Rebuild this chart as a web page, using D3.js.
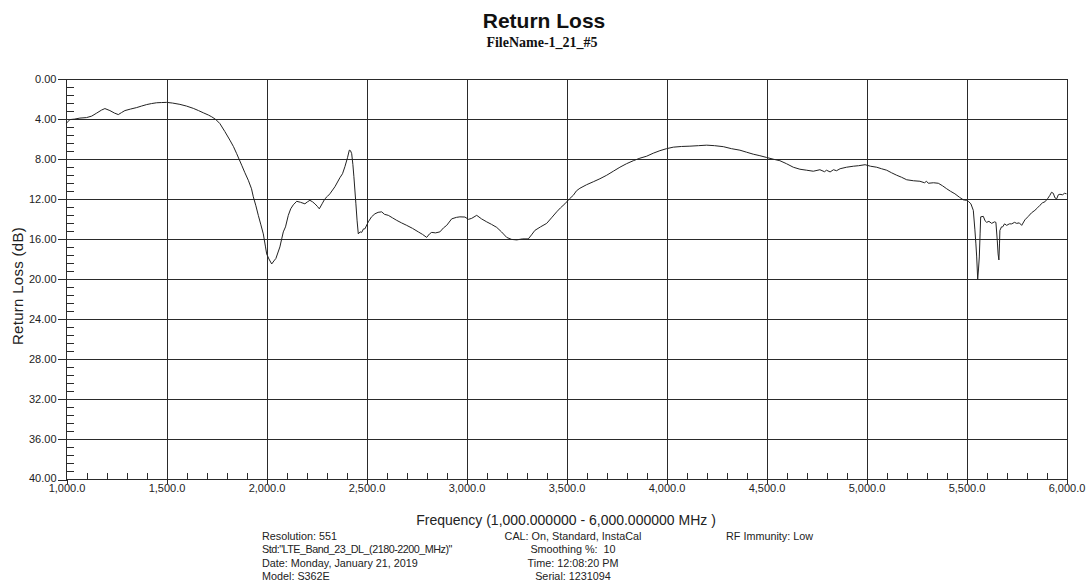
<!DOCTYPE html>
<html>
<head>
<meta charset="utf-8">
<script src="https://cdn.jsdelivr.net/npm/d3@7/dist/d3.min.js"></script>
<style>
  html, body { margin: 0; padding: 0; background: #fff; }
  svg { display: block; }
  .tick text { font-family: "Liberation Sans", Arial, sans-serif; fill: #222; }
  .info { font-family: "Liberation Sans", Arial, sans-serif; font-size: 10.8px; fill: #222; }
</style>
</head>
<body>
<svg id="chart" width="1086" height="587"></svg>
<script>
// Sweep: frequency (MHz) and return loss (dB)
const freq = [
  1000, 1017, 1040, 1067, 1100, 1126, 1151, 1175, 1192, 1217, 1240, 1259, 1275, 1292, 1320, 1351,
  1375, 1401, 1425, 1451, 1475, 1501, 1530, 1567, 1600, 1634, 1660, 1684, 1710, 1726, 1747, 1767,
  1792, 1817, 1835, 1851, 1876, 1892, 1909, 1925, 1934, 1947, 1959, 1972, 1984, 1995, 2001, 2012,
  2026, 2037, 2047, 2067, 2076, 2084, 2095, 2109, 2121, 2134, 2151, 2170, 2192, 2205, 2217, 2230,
  2242, 2254, 2264, 2278, 2292, 2305, 2317, 2342, 2367, 2380, 2392, 2405, 2414, 2420, 2426, 2432,
  2437, 2447, 2453, 2459, 2468, 2476, 2485, 2492, 2509, 2525, 2542, 2558, 2576, 2590, 2609, 2630,
  2651, 2675, 2701, 2730, 2759, 2780, 2801, 2815, 2826, 2845, 2867, 2885, 2901, 2926, 2950, 2967,
  2992, 3010, 3026, 3051, 3075, 3101, 3125, 3151, 3175, 3201, 3225, 3251, 3280, 3309, 3325, 3342,
  3370, 3401, 3425, 3451, 3470, 3492, 3515, 3534, 3550, 3567, 3600, 3634, 3667, 3701, 3734, 3767,
  3800, 3834, 3867, 3901, 3934, 3967, 4000, 4034, 4075, 4117, 4160, 4201, 4240, 4284, 4325, 4367,
  4400, 4434, 4467, 4501, 4534, 4567, 4600, 4634, 4667, 4701, 4734, 4767, 4790, 4800, 4818, 4835,
  4850, 4868, 4900, 4934, 4960, 4993, 5020, 5051, 5075, 5101, 5125, 5151, 5175, 5201, 5235, 5267,
  5290, 5300, 5309, 5335, 5359, 5380, 5401, 5420, 5442, 5465, 5484, 5500, 5509, 5522, 5534, 5542,
  5547, 5551, 5556, 5560, 5564, 5568, 5571, 5584, 5593, 5601, 5612, 5626, 5640, 5647, 5654, 5658,
  5662, 5665, 5667, 5675, 5681, 5690, 5701, 5714, 5726, 5740, 5751, 5764, 5776, 5792, 5809, 5825,
  5842, 5855, 5867, 5880, 5892, 5905, 5917, 5925, 5934, 5942, 5951, 5959, 5967, 5980, 5990, 6000
];
const returnLoss = [
  4.45, 4.10, 4.05, 3.95, 3.90, 3.75, 3.45, 3.15, 3.00, 3.20, 3.45, 3.60, 3.40, 3.20, 3.05, 2.90,
  2.75, 2.60, 2.50, 2.42, 2.40, 2.38, 2.45, 2.58, 2.75, 2.98, 3.20, 3.42, 3.65, 3.82, 4.10, 4.50,
  5.30, 6.15, 6.80, 7.50, 8.65, 9.40, 10.15, 11.00, 11.80, 12.70, 13.65, 14.60, 15.50, 16.80, 17.50, 18.00,
  18.50, 18.20, 17.95, 16.80, 16.00, 15.30, 14.80, 13.65, 13.00, 12.60, 12.25, 12.35, 12.50, 12.30, 12.15, 12.30,
  12.50, 12.75, 13.00, 12.50, 12.00, 11.75, 11.50, 10.80, 9.90, 9.50, 8.80, 7.90, 7.15, 7.20, 7.50, 8.60,
  9.80, 12.50, 14.20, 15.50, 15.30, 15.35, 15.00, 15.00, 14.30, 13.80, 13.50, 13.35, 13.30, 13.55, 13.65, 13.90,
  14.15, 14.40, 14.65, 14.95, 15.30, 15.55, 15.85, 15.50, 15.35, 15.40, 15.30, 14.90, 14.65, 14.00, 13.85, 13.80,
  13.82, 14.05, 13.95, 13.65, 14.00, 14.30, 14.55, 14.85, 15.30, 15.85, 16.05, 16.10, 16.00, 16.00, 15.60, 15.15,
  14.80, 14.45, 13.90, 13.30, 12.90, 12.50, 12.00, 11.65, 11.20, 10.95, 10.60, 10.30, 10.00, 9.65, 9.25, 8.85,
  8.50, 8.20, 7.95, 7.75, 7.45, 7.20, 7.00, 6.85, 6.78, 6.75, 6.70, 6.65, 6.70, 6.80, 7.00, 7.15,
  7.35, 7.55, 7.70, 7.88, 8.05, 8.20, 8.50, 8.85, 9.05, 9.15, 9.25, 9.10, 9.30, 9.15, 9.32, 9.10,
  9.20, 9.00, 8.85, 8.75, 8.70, 8.60, 8.75, 8.85, 9.00, 9.15, 9.40, 9.65, 9.85, 10.10, 10.20, 10.25,
  10.40, 10.25, 10.45, 10.40, 10.45, 10.70, 11.00, 11.25, 11.50, 11.85, 12.10, 12.15, 12.25, 12.50, 13.15, 15.10,
  16.50, 17.80, 20.00, 19.00, 17.80, 15.50, 13.80, 13.75, 14.20, 14.35, 14.25, 14.45, 14.30, 14.35, 16.20, 17.50,
  18.10, 16.50, 15.15, 14.80, 14.80, 14.50, 14.65, 14.50, 14.50, 14.35, 14.45, 14.40, 14.65, 14.10, 13.75, 13.40,
  13.15, 12.90, 12.65, 12.40, 12.30, 12.00, 11.65, 11.35, 11.45, 11.90, 12.00, 11.60, 11.55, 11.60, 11.45, 11.50
];

// Axis ticks
const xMajorTicks = [1000, 1500, 2000, 2500, 3000, 3500, 4000, 4500, 5000, 5500, 6000];
const yMajorTicks = [0, 4, 8, 12, 16, 20, 24, 28, 32, 36, 40];

// Text
const chartTitle = "Return Loss";
const chartSubtitle = "FileName-1_21_#5";
const xTitle = "Frequency (1,000.000000 - 6,000.000000 MHz )";
const yTitle = "Return Loss (dB)";
const infoLeft = ["Resolution: 551", "Std:\"LTE_Band_23_DL_(2180-2200_MHz)\"", "Date: Monday, January 21, 2019", "Model: S362E"];
const infoCenter = ["CAL: On, Standard, InstaCal", "Smoothing %:  10", "Time: 12:08:20 PM", "Serial: 1231094"];
const infoRight = ["RF Immunity: Low"];

const svg = d3.select("#chart");
svg.append("rect").attr("width", 1086).attr("height", 587).attr("fill", "#fff");

const x = d3.scaleLinear().domain([1000, 6000]).range([66.5, 1066.5]);
const y = d3.scaleLinear().domain([0, 40]).range([78.5, 479.5]);
const plotLeft = x.range()[0], plotRight = x.range()[1];
const plotTop = y.range()[0], plotBottom = y.range()[1];

const xMinorTicks = d3.range(1000, 6001, 100).filter(v => !xMajorTicks.includes(v));
const yMinorTicks = d3.range(0, 200, 4).map(k => k / 5).filter(v => v <= 40 && !yMajorTicks.includes(v));

function styleAxis(g, color) {
  g.selectAll("line").attr("stroke", color).attr("shape-rendering", "crispEdges");
  g.selectAll("path.domain").remove();
}

// Grid lines
const gridX = svg.append("g").attr("transform", `translate(0,${plotBottom})`)
  .call(d3.axisBottom(x).tickValues(xMajorTicks.slice(1)).tickSize(-(plotBottom - plotTop)).tickFormat(""));
styleAxis(gridX, "#2a2a2a");
const gridY = svg.append("g").attr("transform", `translate(${plotLeft},0)`)
  .call(d3.axisRight(y).tickValues(yMajorTicks.slice(0, -1)).tickSize(plotRight - plotLeft).tickFormat(""));
styleAxis(gridY, "#2a2a2a");

// Minor ticks
const yMinor = svg.append("g").attr("transform", `translate(${plotLeft},0)`)
  .call(d3.axisRight(y).tickValues(yMinorTicks).tickSize(7).tickFormat(""));
styleAxis(yMinor, "#2a2a2a");
const xMinor = svg.append("g").attr("transform", `translate(0,${plotBottom})`)
  .call(d3.axisTop(x).tickValues(xMinorTicks).tickSize(7).tickFormat(""));
styleAxis(xMinor, "#2a2a2a");

// Main axes with labels
const yAxis = svg.append("g").attr("transform", `translate(${plotLeft},0)`)
  .call(d3.axisLeft(y).tickValues(yMajorTicks).tickSize(9).tickPadding(1).tickFormat(d3.format(".2f")));
styleAxis(yAxis, "#2a2a2a");
yAxis.selectAll("text").attr("font-size", "11px");
yAxis.selectAll(".tick").filter(d => d === 40).select("text").attr("dy", "0.2em");

const xAxis = svg.append("g").attr("transform", `translate(0,${plotBottom})`)
  .call(d3.axisBottom(x).tickValues(xMajorTicks).tickSize(4).tickPadding(1).tickFormat(d3.format(",.1f")));
styleAxis(xAxis, "#2a2a2a");
xAxis.selectAll("text").attr("font-size", "11px");

// Axis lines
svg.append("line").attr("x1", plotLeft).attr("x2", plotLeft).attr("y1", plotTop).attr("y2", plotBottom)
  .attr("stroke", "#2a2a2a").attr("shape-rendering", "crispEdges");
svg.append("line").attr("x1", plotLeft).attr("x2", plotRight).attr("y1", plotBottom).attr("y2", plotBottom)
  .attr("stroke", "#2a2a2a").attr("shape-rendering", "crispEdges");

// Trace
const data = freq.map((f, i) => ({ f, v: returnLoss[i] }));
svg.append("path")
  .datum(data)
  .attr("fill", "none")
  .attr("stroke", "#222")
  .attr("stroke-width", 1)
  .attr("d", d3.line().x(d => x(d.f)).y(d => y(d.v)));

// Titles
svg.append("text").attr("x", 544).attr("y", 28).attr("text-anchor", "middle")
  .attr("font-family", "'Liberation Sans', Arial, sans-serif").attr("font-weight", "bold")
  .attr("font-size", "21px").attr("fill", "#111").text(chartTitle);
svg.append("text").attr("x", 542).attr("y", 46.5).attr("text-anchor", "middle")
  .attr("font-family", "'Liberation Serif', 'Times New Roman', serif").attr("font-weight", "bold")
  .attr("font-size", "14px").attr("fill", "#111").text(chartSubtitle);

svg.append("text").attr("x", 566).attr("y", 525).attr("text-anchor", "middle")
  .attr("font-family", "'Liberation Sans', Arial, sans-serif").attr("font-size", "14px")
  .attr("fill", "#222").text(xTitle);
svg.append("text").attr("transform", "translate(23,286) rotate(-90)").attr("text-anchor", "middle")
  .attr("font-family", "'Liberation Sans', Arial, sans-serif").attr("font-size", "15px")
  .attr("letter-spacing", "0.3px").attr("fill", "#222").text(yTitle);

// Instrument info block
const rowY = [539.5, 553, 566.5, 580];
svg.append("g").selectAll("text").data(infoLeft).join("text").attr("class", "info")
  .attr("x", 262).attr("y", (d, i) => rowY[i])
  .attr("letter-spacing", (d, i) => i === 1 ? "-0.5px" : null).text(d => d);
svg.append("g").selectAll("text").data(infoCenter).join("text").attr("class", "info")
  .attr("x", 573).attr("y", (d, i) => rowY[i]).attr("text-anchor", "middle")
  .style("white-space", "pre").text(d => d);
svg.append("g").selectAll("text").data(infoRight).join("text").attr("class", "info")
  .attr("x", 726).attr("y", (d, i) => rowY[i]).text(d => d);
</script>
</body>
</html>
